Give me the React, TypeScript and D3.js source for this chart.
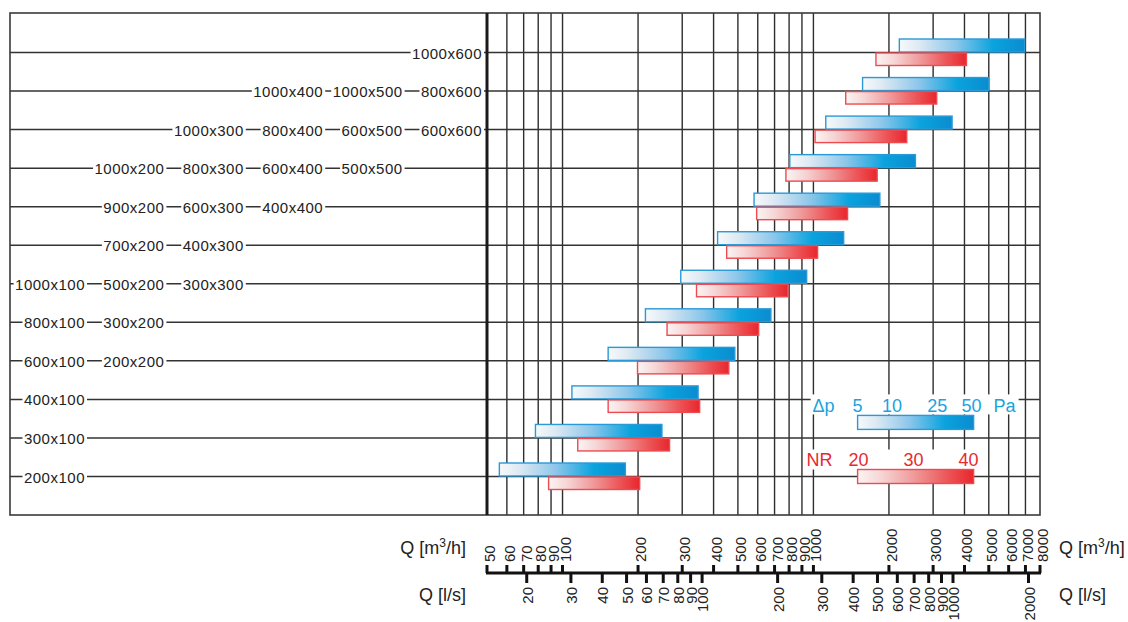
import * as d3 from 'd3'

// duct sizes per row (top -> bottom), first label column of each row
const rowSizes: string[][] = [
  ['1000x600'],
  ['1000x400', '1000x500', '800x600'],
  ['1000x300', '800x400', '600x500', '600x600'],
  ['1000x200', '800x300', '600x400', '500x500'],
  ['900x200', '600x300', '400x400'],
  ['700x200', '400x300'],
  ['1000x100', '500x200', '300x300'],
  ['800x100', '300x200'],
  ['600x100', '200x200'],
  ['400x100'],
  ['300x100'],
  ['200x100'],
]
const rowFirstCol = [5, 3, 2, 1, 1, 1, 0, 0, 0, 0, 0, 0]

// airflow ranges in m3/h: pressure drop (blue) and noise rating (red)
const dpMin = [2200, 1570, 1120, 805, 580, 415, 296, 214, 152, 109, 78, 56]
const dpMax = [6950, 5000, 3570, 2550, 1840, 1320, 940, 677, 486, 347, 249, 178]
const nrMin = [1775, 1345, 1015, 777, 594, 451, 342, 261, 199, 152, 115, 88]
const nrMax = [4075, 3100, 2355, 1795, 1368, 1039, 791, 605, 460, 352, 267, 203]

const m3hTicks = [50, 60, 70, 80, 90, 100, 200, 300, 400, 500, 600, 700, 800, 900, 1000, 2000, 3000, 4000, 5000, 6000, 7000, 8000]
const lsTicks = [20, 30, 40, 50, 60, 70, 80, 90, 100, 200, 300, 400, 500, 600, 700, 800, 900, 1000, 2000]

// legend
const legendQ = [1500, 4350]
const dpLegend = [5, 10, 25, 50]
const nrLegend = [20, 30, 40]

const W = 1128
const H = 622
const FONT = '"Liberation Sans", Arial, Helvetica, sans-serif'
const BLUE_TXT = '#1aa3dd'
const RED_TXT = '#e8282f'

const labelWidth = (s: string, fs: number) =>
  s.split('').reduce((a, c) => a + (c === 'x' ? 0.5 : 0.556), 0) * fs + (s.length - 1) * 0.5

export default function App() {
  const fr = { l: 10, t: 13, r: 1040, b: 515 }
  const x = d3.scaleLog().domain([50, 8000]).range([487, fr.r])
  const y = d3.scalePoint<number>().domain(d3.range(rowSizes.length)).range([52.5, 476.5])
  const col = d3.scalePoint<number>().domain(d3.range(6)).range([85, 482])
  const axisY = 573

  const lx0 = x(legendQ[0])
  const lx1 = x(legendQ[1])
  const dpPos = d3.scaleLog().domain([5, 50]).range([lx0, lx1 - 2])
  const nrPos = d3.scaleLinear().domain([20, 40]).range([lx0 + 1, lx1 - 5])
  const blueLegY = y(9)! + 16
  const redLegY = y(11)! - 7

  return (
    <div style={{ position: 'absolute', left: 0, top: 0 }}>
      <svg width={W} height={H} style={{ display: 'block', background: '#fff' }} fontFamily={FONT}>
        <defs>
          <linearGradient id="gBlue" x1="0" x2="1" y1="0" y2="0">
            <stop offset="0" stopColor="#f7f9fb" />
            <stop offset="0.15" stopColor="#dfeaf3" />
            <stop offset="0.45" stopColor="#8cc6ea" />
            <stop offset="0.75" stopColor="#0aa3de" />
            <stop offset="1" stopColor="#0a8cd0" />
          </linearGradient>
          <linearGradient id="gRed" x1="0" x2="1" y1="0" y2="0">
            <stop offset="0" stopColor="#fbf4f4" />
            <stop offset="0.2" stopColor="#f6d6d6" />
            <stop offset="0.5" stopColor="#ef9798" />
            <stop offset="0.8" stopColor="#ec5053" />
            <stop offset="1" stopColor="#e8262d" />
          </linearGradient>
        </defs>

        {/* vertical grid */}
        {m3hTicks.slice(1, -1).map(t => (
          <line key={'v' + t} x1={x(t)} x2={x(t)} y1={fr.t} y2={fr.b} stroke="#2e2e2e" strokeWidth={1.4} />
        ))}

        {/* horizontal row lines */}
        {rowSizes.map((_, i) => (
          <line key={'h' + i} x1={fr.l} x2={fr.r} y1={y(i)} y2={y(i)} stroke="#333" strokeWidth={1.5} />
        ))}

        {/* size labels on the row lines */}
        {rowSizes.map((sizes, i) =>
          sizes.map((s, j) => {
            const right = col(rowFirstCol[i] + j)!
            const w = labelWidth(s, 15)
            return (
              <g key={s}>
                <rect x={right - w - 2} y={y(i)! - 8} width={w + 4} height={16} fill="#fff" />
                <text x={right} y={y(i)! + 6} fontSize={15} letterSpacing={0.5} textAnchor="end" fill="#222">{s}</text>
              </g>
            )
          })
        )}

        {/* bars */}
        {rowSizes.map((_, i) => (
          <g key={'b' + i}>
            <rect x={x(dpMin[i])} y={y(i)! - 13.5} width={x(dpMax[i]) - x(dpMin[i])} height={13}
              fill="url(#gBlue)" stroke="#2a9ad6" strokeWidth={1.4} />
            <rect x={x(nrMin[i])} y={y(i)! + 0.5} width={x(nrMax[i]) - x(nrMin[i])} height={12.5}
              fill="url(#gRed)" stroke="#ee4a50" strokeWidth={1.4} />
          </g>
        ))}

        {/* legend */}
        <rect x={lx0 - 47} y={blueLegY - 21} width={lx1 - lx0 + 92} height={20} fill="#fff" />
        <text x={lx0 - 34} y={blueLegY - 3} fontSize={18} textAnchor="middle" fill={BLUE_TXT}>Δp</text>
        {dpLegend.map(v => (
          <text key={'dp' + v} x={dpPos(v)} y={blueLegY - 3} fontSize={18} textAnchor="middle" fill={BLUE_TXT}>{v}</text>
        ))}
        <text x={lx1 + 31} y={blueLegY - 3} fontSize={18} textAnchor="middle" fill={BLUE_TXT}>Pa</text>
        <rect x={lx0} y={blueLegY} width={lx1 - lx0} height={14} fill="url(#gBlue)" stroke="#2a9ad6" strokeWidth={1.4} />

        <rect x={lx0 - 54} y={redLegY - 20} width={lx1 - lx0 + 62} height={20} fill="#fff" />
        <text x={lx0 - 38} y={redLegY - 4} fontSize={18} textAnchor="middle" fill={RED_TXT}>NR</text>
        {nrLegend.map(v => (
          <text key={'nr' + v} x={nrPos(v)} y={redLegY - 4} fontSize={18} textAnchor="middle" fill={RED_TXT}>{v}</text>
        ))}
        <rect x={lx0} y={redLegY} width={lx1 - lx0} height={14} fill="url(#gRed)" stroke="#ee4a50" strokeWidth={1.4} />

        {/* frame */}
        <rect x={fr.l} y={fr.t} width={fr.r - fr.l} height={fr.b - fr.t} fill="none" stroke="#3a3a3a" strokeWidth={1.6} />
        <line x1={x(50)} x2={x(50)} y1={fr.t} y2={fr.b} stroke="#1a1a1a" strokeWidth={3} />

        {/* double flow axis */}
        <line x1={x(50) - 1} x2={fr.r + 1} y1={axisY} y2={axisY} stroke="#111" strokeWidth={3} />
        {m3hTicks.map(t => (
          <g key={'m' + t}>
            <line x1={x(t)} x2={x(t)} y1={axisY - 8} y2={axisY} stroke="#111" strokeWidth={3} />
            <text transform={`translate(${x(t) + 8},${axisY - 11}) rotate(-90)`} fontSize={15} fill="#222">{t}</text>
          </g>
        ))}
        {lsTicks.map(t => (
          <g key={'l' + t}>
            <line x1={x(t * 3.6)} x2={x(t * 3.6)} y1={axisY} y2={axisY + 10} stroke="#111" strokeWidth={3} />
            <text transform={`translate(${x(t * 3.6) + 6},${axisY + 14}) rotate(-90)`} fontSize={15} textAnchor="end" fill="#222">{t}</text>
          </g>
        ))}

        {/* axis titles */}
        {[{ ax: 466, anchor: 'end' }, { ax: 1059, anchor: 'start' }].map(({ ax, anchor }) => (
          <g key={'t' + ax} fontSize={18} fill="#222" textAnchor={anchor}>
            <text x={ax} y={554}>Q [m<tspan fontSize={12} dy={-7}>3</tspan><tspan dy={7}>/h]</tspan></text>
            <text x={ax} y={601}>Q [l/s]</text>
          </g>
        ))}
      </svg>
    </div>
  )
}
